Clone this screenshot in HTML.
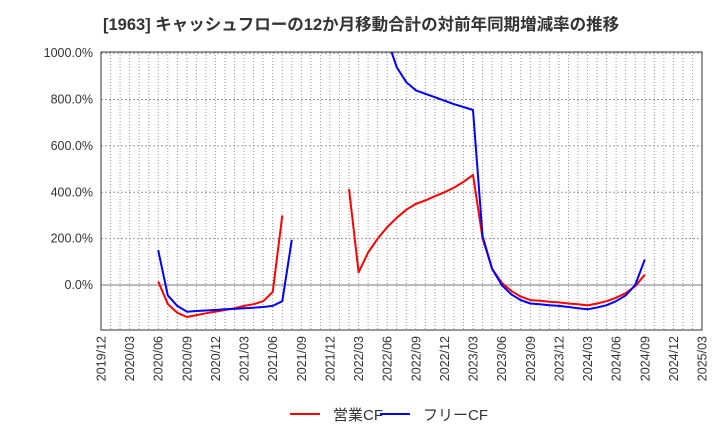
<!DOCTYPE html>
<html><head><meta charset="utf-8"><style>
body{margin:0;background:#fff;}
svg text{font-family:"Liberation Sans","Noto Sans CJK JP",sans-serif;}
</style></head><body>
<svg id="c" width="720" height="440" xmlns="http://www.w3.org/2000/svg">
<text x="103" y="30" font-size="16.5" font-weight="bold" fill="#333">[1963]  キャッシュフローの12か月移動合計の対前年同期増減率の推移</text>
<defs><clipPath id="pc"><rect x="101" y="52" width="601" height="278"/></clipPath></defs>
<g id="grid"></g><g id="series" clip-path="url(#pc)"></g><g id="axes"></g>
<g>
<line x1="290" y1="414" x2="320" y2="414" stroke="#f00" stroke-width="2"/>
<text x="333" y="420" font-size="15" fill="#333">営業CF</text>
<line x1="380" y1="414" x2="410" y2="414" stroke="#00f" stroke-width="2"/>
<text x="423" y="420" font-size="15" fill="#333">フリーCF</text>
</g>
</svg>
<script>
const yTicks=[0,200,400,600,800,1000];
const xLabels=["2019/12","2020/03","2020/06","2020/09","2020/12","2021/03","2021/06","2021/09","2021/12","2022/03","2022/06","2022/09","2022/12","2023/03","2023/06","2023/09","2023/12","2024/03","2024/06","2024/09","2024/12","2025/03"];
// month index from 2019/12
const opStart=6;
const opCF=[15,-82,-120,-138,-130,-122,-115,-108,-100,-90,-83,-70,-30,300,null,null,null,null,null,null,414,55,140,200,250,290,325,350,365,383,400,420,445,475,200,70,10,-25,-50,-65,-68,-72,-75,-80,-83,-88,-80,-70,-55,-35,-5,45];
const freeStart=6;
const freeCF=[150,-45,-90,-115,-112,-110,-108,-105,-103,-100,-98,-95,-90,-70,195,null,null,null,null,null,null,null,null,null,1060,940,875,840,825,810,795,780,768,755,210,70,0,-40,-65,-80,-83,-87,-90,-95,-100,-105,-97,-87,-70,-45,0,110];
const X0=101,X1=702,Y0=285,PX=0.2318,TOP=52,BOT=330;
const xs=m=>X0+(X1-X0)*m/63;
const ys=v=>Y0-v*PX;
const NS="http://www.w3.org/2000/svg";
const grid=document.getElementById('grid'),ser=document.getElementById('series'),ax=document.getElementById('axes');
function mk(tag,attrs,parent){const e=document.createElementNS(NS,tag);for(const k in attrs)e.setAttribute(k,attrs[k]);parent.appendChild(e);return e;}
for(let m=1;m<63;m++){const l=mk('line',{x1:xs(m),x2:xs(m),y1:TOP,y2:BOT,stroke:'#999','stroke-dasharray':'1,2','stroke-width':1},grid);

}
yTicks.forEach(v=>{const y=ys(v);
const l=mk('line',{x1:X0,x2:X1,y1:y,y2:y,stroke:v===0?'#777':'#999','stroke-dasharray':v===0?'':'2,2','stroke-width':1},grid);


const t=mk('text',{x:X0-8,y:y+4,'font-size':12.5,'text-anchor':'end',fill:'#333'},ax);t.textContent=v.toFixed(1)+'%';

});
xLabels.forEach((s,i)=>{const x=xs(i*3);
const t=mk('text',{x:0,y:0,'font-size':12.5,'text-anchor':'end',fill:'#333',transform:`translate(${x+4.5},${BOT+6}) rotate(-90)`},ax);t.textContent=s;

});
const fr=mk('rect',{x:X0,y:TOP,width:X1-X0,height:BOT-TOP,fill:'none',stroke:'#333','stroke-width':1},ax);


function draw(arr,start,color,name){let segs=[],cur=[];arr.forEach((v,i)=>{if(v===null){if(cur.length)segs.push(cur);cur=[];}else cur.push(xs(start+i).toFixed(1)+','+ys(v).toFixed(1));});if(cur.length)segs.push(cur);
segs.forEach(s=>{const p=mk('polyline',{points:s.join(' '),fill:'none',stroke:color,'stroke-width':2,'stroke-linejoin':'round'},ser);

});}
draw(opCF,opStart,'#f00','operating-cf-line');
draw(freeCF,freeStart,'#00f','free-cf-line');
</script>
</body></html>
